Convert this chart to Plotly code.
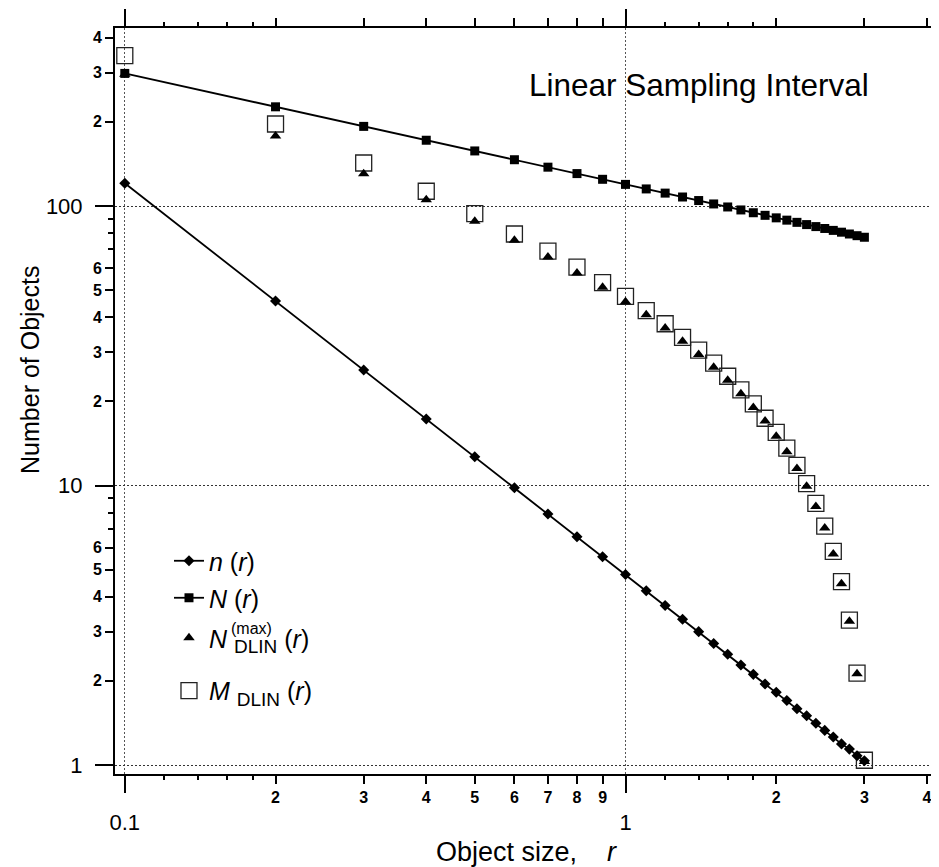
import plotly.graph_objects as go

# ---------------- data ----------------
r = [0.1, 0.2, 0.3, 0.4, 0.5, 0.6, 0.7, 0.8, 0.9, 1.0,
     1.1, 1.2, 1.3, 1.4, 1.5, 1.6, 1.7, 1.8, 1.9, 2.0,
     2.1, 2.2, 2.3, 2.4, 2.5, 2.6, 2.7, 2.8, 2.9, 3.0]

n_r = [120.6, 45.7, 25.9, 17.3, 12.67, 9.81, 7.91, 6.56, 5.56, 4.80,
       4.20, 3.72, 3.32, 3.00, 2.72, 2.49, 2.28, 2.11, 1.95, 1.82,
       1.70, 1.59, 1.50, 1.41, 1.33, 1.26, 1.19, 1.14, 1.08, 1.035]

N_r = [298.1, 226.4, 192.7, 171.9, 157.4, 146.4, 137.7, 130.6, 124.6, 119.5,
       115.1, 111.2, 107.7, 104.6, 101.7, 99.2, 96.8, 94.6, 92.6, 90.7,
       89.0, 87.4, 85.8, 84.4, 83.1, 81.8, 80.6, 79.4, 78.3, 77.3]

N_dlin_max = [296, 178, 130.5, 105.3, 88.2, 75.4, 65.7, 57.6, 51.2, 45.4,
              40.8, 36.6, 32.8, 29.4, 26.5, 23.8, 21.3, 19.0, 17.0, 15.0,
              13.2, 11.5, 9.94, 8.42, 7.05, 5.69, 4.45, 3.27, 2.12, 1.03]

M_dlin = [345, 196.5, 142.5, 112.9, 93.9, 79.4, 68.9, 60.4, 53.2, 47.5,
          42.2, 37.9, 33.9, 30.5, 27.4, 24.6, 22.0, 19.6, 17.4, 15.5,
          13.6, 11.8, 10.15, 8.63, 7.16, 5.81, 4.53, 3.30, 2.13, 1.04]

# tick definitions
x_major = [0.1, 1]
x_major_text = ["0.1", "1"]
x_labeled = [0.2, 0.3, 0.4, 0.5, 0.6, 0.7, 0.8, 0.9, 2, 3, 4]
x_labeled_text = ["2", "3", "4", "5", "6", "7", "8", "9", "2", "3", "4"]
x_minor = [0.12, 0.14, 0.16, 0.18, 1.2, 1.4, 1.6, 1.8]

y_major = [1, 10, 100]
y_major_text = ["1", "10", "100"]
y_labeled = [2, 3, 4, 5, 6, 20, 30, 40, 50, 60, 200, 300, 400]
y_labeled_text = ["2", "3", "4", "5", "6", "2", "3", "4", "5", "6", "2", "3", "4"]
y_minor = [7, 8, 9, 70, 80, 90]

# ---------------- figure ----------------
FONT = "Liberation Sans, Arial, Helvetica, sans-serif"
XR = [-1.01957, 0.62412]
YR = [-0.0322, 2.63685]

fig = go.Figure()

fig.add_trace(go.Scatter(
    x=r, y=M_dlin, mode="markers", name="<i>M</i> <sub><span style='font-size:19px'>DLIN</span></sub> (<i>r</i>)",
    legend="legend4",
    marker=dict(symbol="square-open", size=16, color="#222222", line=dict(width=1.3, color="#222222"))))
fig.add_trace(go.Scatter(
    x=r, y=N_dlin_max, mode="markers", name="<i>N</i> <sub><span style='font-size:19px'>DLIN</span></sub> (<i>r</i>)",
    legend="legend3",
    marker=dict(symbol="triangle-up", size=10, color="black")))
fig.add_trace(go.Scatter(
    x=r, y=N_r, mode="lines+markers", name="<i>N</i> (<i>r</i>)",
    legend="legend2",
    line=dict(color="black", width=1.8),
    marker=dict(symbol="square", size=9, color="black")))
fig.add_trace(go.Scatter(
    x=r, y=n_r, mode="lines+markers", name="<i>n</i> (<i>r</i>)",
    legend="legend",
    line=dict(color="black", width=1.8),
    marker=dict(symbol="diamond", size=8.5, color="black")))

common_axis = dict(type="log", ticks="outside", tickwidth=2, tickcolor="black",
                   zeroline=False)

fig.update_layout(
    xaxis=dict(**common_axis, range=XR, tickvals=x_major, ticktext=x_major_text,
               ticklen=17, showline=True, linewidth=2, linecolor="black", mirror="ticks",
               showgrid=True, gridcolor="#555555", griddash="2px,2px", gridwidth=1,
               tickfont=dict(family=FONT, size=22, color="black"), ticklabelstandoff=11),
    xaxis2=dict(**common_axis, range=XR, overlaying="x", anchor="y", side="bottom",
                tickvals=x_labeled, ticktext=x_labeled_text, ticklen=9,
                showline=False, mirror="ticks", showgrid=False,
                tickfont=dict(family=FONT, size=16, color="black", weight="bold"),
                ticklabelstandoff=0,
                minor=dict(tickvals=x_minor, ticklen=5, tickwidth=2, tickcolor="black",
                           ticks="outside", showgrid=False)),
    yaxis=dict(**common_axis, range=YR, tickvals=y_major, ticktext=y_major_text,
               ticklen=18, showline=True, linewidth=2, linecolor="black", mirror="ticks",
               showgrid=True, gridcolor="#333333", griddash="2px,2px", gridwidth=1,
               tickfont=dict(family=FONT, size=22, color="black"), ticklabelstandoff=8),
    yaxis2=dict(**common_axis, range=YR, overlaying="y", anchor="x", side="left",
                tickvals=y_labeled, ticktext=y_labeled_text, ticklen=9,
                showline=False, mirror="ticks", showgrid=False,
                tickfont=dict(family=FONT, size=16, color="black", weight="bold"),
                ticklabelstandoff=0,
                minor=dict(tickvals=y_minor, ticklen=6, tickwidth=2, tickcolor="black",
                           ticks="outside", showgrid=False)),
    width=939, height=867,
    margin=dict(l=107, r=9, t=20, b=101, autoexpand=False),
    paper_bgcolor="white", plot_bgcolor="white",
    font=dict(family=FONT, color="black"),
    showlegend=True,
)

leg_common = dict(xanchor="left", yanchor="middle", bgcolor="rgba(0,0,0,0)",
                  borderwidth=0, font=dict(family=FONT, size=25, color="black"),
                  itemsizing="trace")
fig.update_layout(
    legend=dict(**leg_common, x=0.0656, y=0.2855),
    legend2=dict(**leg_common, x=0.0656, y=0.2359),
    legend3=dict(**leg_common, x=0.0656, y=0.1823),
    legend4=dict(**leg_common, x=0.0656, y=0.1113),
)

# empty trace so the overlay axes are instantiated
fig.add_trace(go.Scatter(x=[], y=[], xaxis="x2", yaxis="y2", showlegend=False, hoverinfo="skip"))

fig.add_annotation(text="(max)", x=0.1385, y=0.1957, xref="paper", yref="paper",
                   xanchor="left", yanchor="middle", showarrow=False,
                   font=dict(family=FONT, size=16, color="black"))
fig.add_annotation(text="Linear Sampling Interval", x=0.7102, y=0.9236, xref="paper", yref="paper",
                   xanchor="center", yanchor="middle", showarrow=False,
                   font=dict(family=FONT, size=31.5, color="black"))
fig.add_annotation(text="Number of Objects", x=-0.1033, y=0.5416, xref="paper", yref="paper",
                   xanchor="center", yanchor="middle", textangle=-90, showarrow=False,
                   font=dict(family=FONT, size=25, color="black"))
fig.add_annotation(text="Object size,&nbsp;&nbsp;&nbsp; <i>r</i>", x=0.5006, y=-0.1046,
                   xref="paper", yref="paper", xanchor="center", yanchor="middle", showarrow=False,
                   font=dict(family=FONT, size=27, color="black"))

fig.write_html("out.html")
